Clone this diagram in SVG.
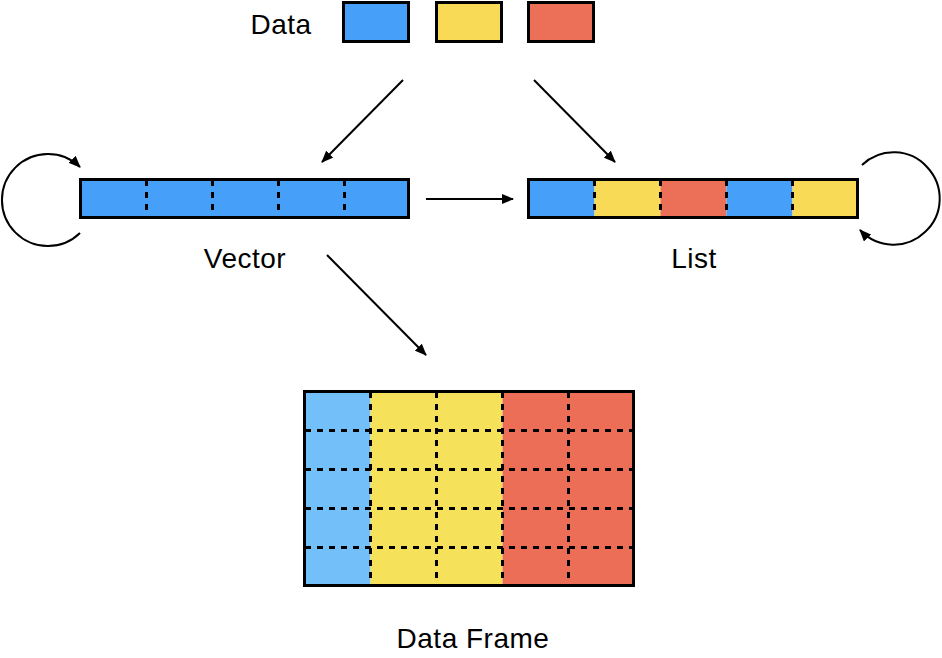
<svg xmlns="http://www.w3.org/2000/svg" width="942" height="658" viewBox="0 0 942 658">
<style>
.lbl{font-family:"Liberation Sans",Arial,sans-serif;font-size:28px;letter-spacing:0.5px;fill:#000;text-anchor:middle}
.box{stroke:#000;stroke-width:3}
.outline{fill:none;stroke:#000;stroke-width:3}
.dash{stroke:#000;stroke-width:3;stroke-dasharray:6 6;fill:none}
.conn{fill:none;stroke:#000;stroke-width:2;marker-end:url(#ah)}
.b{fill:#469FF9}.y{fill:#F9DA57}.r{fill:#EC6F58}
.db{fill:#73BFFA}.dy{fill:#F6E15A}.dr{fill:#EC6E57}
</style>
<defs>
<marker id="ah" markerUnits="userSpaceOnUse" markerWidth="12" markerHeight="10" refX="11" refY="5" orient="auto" viewBox="0 0 12 10">
<path d="M0,0 L12,5 L0,10 z" fill="#000"/>
</marker>
</defs>
<rect width="942" height="658" fill="#fff"/>
<g id="data">
<text class="lbl" x="281" y="34">Data</text>
<rect class="box b" x="343.5" y="2.5" width="65" height="39"/>
<rect class="box y" x="436.5" y="2.5" width="65" height="39"/>
<rect class="box r" x="528.5" y="2.5" width="65" height="39"/>
</g>
<g id="vector">
<rect class="b" x="80.5" y="179.5" width="328" height="38"/>
<path class="dash" d="M146.5 180V217M212.5 180V217M278.5 180V217M344.5 180V217"/>
<rect class="outline" x="80.5" y="179.5" width="328" height="38"/>
<text class="lbl" x="245" y="268">Vector</text>
</g>
<g id="list">
<rect class="b" x="528.5" y="179.5" width="66" height="38"/>
<rect class="y" x="594.5" y="179.5" width="66" height="38"/>
<rect class="r" x="660.5" y="179.5" width="66" height="38"/>
<rect class="b" x="726.5" y="179.5" width="66" height="38"/>
<rect class="y" x="792.5" y="179.5" width="65" height="38"/>
<path class="dash" d="M594.5 180V217M660.5 180V217M726.5 180V217M792.5 180V217"/>
<rect class="outline" x="528.5" y="179.5" width="329" height="38"/>
<text class="lbl" x="694" y="268">List</text>
</g>
<g id="dataframe">
<rect class="db" x="304.5" y="391.5" width="66" height="194"/>
<rect class="dy" x="370.5" y="391.5" width="132" height="194"/>
<rect class="dr" x="502.5" y="391.5" width="131" height="194"/>
<path class="dash" d="M370.5 392V585M436.5 392V585M502.5 392V585M568.5 392V585M305 430.5H633M305 469.5H633M305 508.5H633M305 547.5H633"/>
<rect class="outline" x="304.5" y="391.5" width="329" height="194"/>
<text class="lbl" x="473" y="648">Data Frame</text>
</g>
<g id="connectors">
<path class="conn" d="M403 80L322 162"/>
<path class="conn" d="M534 80L615 162"/>
<path class="conn" d="M426 199H513"/>
<path class="conn" d="M327 255L426 355"/>
<path class="conn" d="M80 233A46 46 0 1 1 80 167"/>
<path class="conn" d="M862 165A46 46 0 1 1 860 230"/>
</g>
</svg>
